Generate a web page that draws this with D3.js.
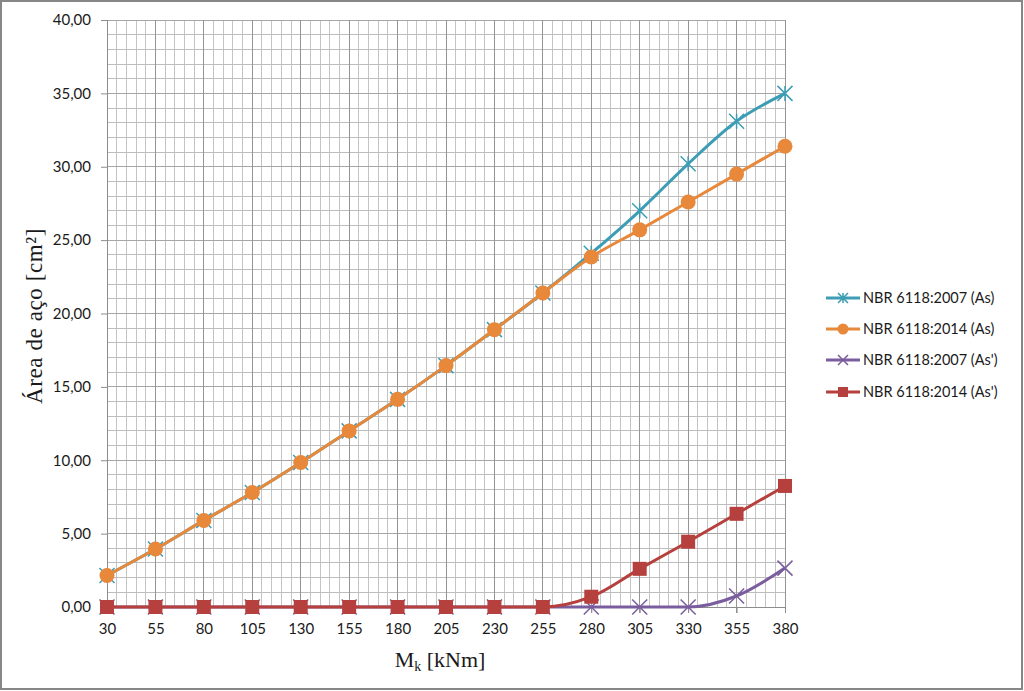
<!DOCTYPE html>
<html><head><meta charset="utf-8">
<script src="https://cdn.jsdelivr.net/npm/d3@7"></script>
<style>body{margin:0;background:#fff}svg{display:block}</style>
</head><body>
<svg id="c" width="1024" height="691"></svg>
<script>
const categories = [30,55,80,105,130,155,180,205,230,255,280,305,330,355,380];
const as2007 = [2.15,3.95,5.9,7.8,9.85,12.0,14.15,16.45,18.9,21.4,24.1,27.0,30.2,33.1,35.0];
const as2014 = [2.15,3.95,5.9,7.8,9.85,12.0,14.15,16.45,18.9,21.4,23.85,25.7,27.6,29.5,31.4];
const asl2007 = [0,0,0,0,0,0,0,0,0,0,0,0,0,0.75,2.65];
const asl2014 = [0,0,0,0,0,0,0,0,0,0,0.7,2.6,4.45,6.35,8.25];
const yTicks = [0,5,10,15,20,25,30,35,40];
const seriesNames = ["NBR 6118:2007 (As)","NBR 6118:2014 (As)","NBR 6118:2007 (As')","NBR 6118:2014 (As')"];

const series = [
  {name: seriesNames[0], values: as2007, color: "#3d9db5", marker: "star"},
  {name: seriesNames[1], values: as2014, color: "#e8883a", marker: "circle"},
  {name: seriesNames[2], values: asl2007, color: "#7a5d9e", marker: "x"},
  {name: seriesNames[3], values: asl2014, color: "#b5403d", marker: "square"}
];

const svg = d3.select("#c");
const L = 107, R = 785, T = 20, B = 607;
const x = d3.scalePoint().domain(categories).range([L, R]);
const y = d3.scaleLinear().domain([0, 40]).range([B, T]);

// outer border
svg.append("rect").attr("x",1).attr("y",1).attr("width",1021).attr("height",688)
  .attr("fill","#fff").attr("stroke","#878787").attr("stroke-width",2);

const g = svg.append("g");
// minor vertical gridlines
const step = x.step();
for (let i = 0; i < categories.length - 1; i++) {
  for (let k = 1; k < 5; k++) {
    const xx = x(categories[i]) + step * k / 5;
    g.append("line").attr("x1",xx).attr("x2",xx).attr("y1",T).attr("y2",B)
      .attr("stroke","#c4c4c4").attr("stroke-width",1).attr("shape-rendering","crispEdges");
  }
}
// horizontal gridlines every 1 unit
d3.range(1, 41).forEach(v => {
  g.append("line").attr("x1",L).attr("x2",R).attr("y1",y(v)).attr("y2",y(v))
    .attr("stroke", v % 5 === 0 ? "#a6a6a6" : "#bdbdbd").attr("stroke-width",1).attr("shape-rendering","crispEdges");
});
// major vertical gridlines
categories.forEach(c => {
  g.append("line").attr("x1",x(c)).attr("x2",x(c)).attr("y1",T).attr("y2",B + 6)
    .attr("stroke","#959595").attr("stroke-width",1).attr("shape-rendering","crispEdges");
});

// y axis
const yAxis = d3.axisLeft(y).tickValues(yTicks).tickSize(6).tickPadding(10)
  .tickFormat(d => d3.format(".2f")(d).replace(".", ","));
const ya = svg.append("g").attr("transform",`translate(${L},0)`).call(yAxis);
ya.select(".domain").attr("stroke","#8c8c8c");
ya.selectAll(".tick line").attr("stroke","#8c8c8c");
ya.selectAll("text").attr("font-family","Lato").attr("font-size","15px").attr("fill","#1a1a1a");

// x axis
const xAxis = d3.axisBottom(x).tickSize(6).tickPadding(10);
const xa = svg.append("g").attr("transform",`translate(0,${B})`).call(xAxis);
xa.select(".domain").attr("stroke","#8c8c8c");
xa.selectAll(".tick line").attr("stroke","#8c8c8c");
xa.selectAll("text").attr("font-family","Lato").attr("font-size","15px").attr("fill","#1a1a1a");

// axis titles
svg.append("text").attr("transform","translate(42,316) rotate(-90)").attr("text-anchor","middle")
  .attr("font-family","Liberation Serif").attr("font-size","23px").attr("fill","#1a1a1a")
  .attr("letter-spacing","0.6px")
  .text("Área de aço [cm²]");
const xt = svg.append("text").attr("x",440).attr("y",667).attr("text-anchor","middle")
  .attr("font-family","Liberation Serif").attr("font-size","22px").attr("fill","#1a1a1a");
xt.append("tspan").text("M");
xt.append("tspan").attr("font-size","14px").attr("dy",4).text("k");
xt.append("tspan").attr("dy",-4).text(" [kNm]");

function drawMarker(sel, type, color, s) {
  if (type === "circle") {
    sel.append("circle").attr("r", s/2).attr("fill", color);
  } else if (type === "square") {
    sel.append("rect").attr("x",-s/2).attr("y",-s/2).attr("width",s).attr("height",s).attr("fill",color);
  } else if (type === "x" || type === "star") {
    const h = s/2;
    sel.append("path").attr("d",`M${-h},${-h}L${h},${h}M${-h},${h}L${h},${-h}` + (type==="star" ? `M0,${-h}L0,${h}` : ""))
      .attr("stroke", color).attr("stroke-width", 1.5).attr("fill","none");
  }
}

const line = d3.line().x((d,i) => x(categories[i])).y(d => y(d)).curve(d3.curveMonotoneX);
const plot = svg.append("g");
series.forEach(s => {
  const sg = plot.append("g");
  sg.append("path").attr("d", line(s.values)).attr("fill","none").attr("stroke", s.color)
    .attr("stroke-width",3).attr("stroke-linejoin","round");
  s.values.forEach((v,i) => {
    const m = sg.append("g").attr("transform",`translate(${x(categories[i])},${y(v)})`);
    drawMarker(m, s.marker, s.color, s.marker === "circle" ? 15 : (s.marker === "square" ? 14 : 15));
  });
});

// legend
const lg = svg.append("g");
const legY = [298, 329, 360, 392];
series.forEach((s, i) => {
  const row = lg.append("g").attr("transform",`translate(0,${legY[i]})`);
  row.append("line").attr("x1",826).attr("x2",860).attr("y1",0).attr("y2",0)
    .attr("stroke", s.color).attr("stroke-width",3);
  const m = row.append("g").attr("transform","translate(843,0)");
  drawMarker(m, s.marker, s.color, s.marker === "circle" ? 11 : 10);
  row.append("text").attr("x",863).attr("y",0).attr("dy","0.35em")
    .attr("font-family","Lato").attr("font-size","14.5px").attr("fill","#1a1a1a").text(s.name);
});
</script>
</body></html>
